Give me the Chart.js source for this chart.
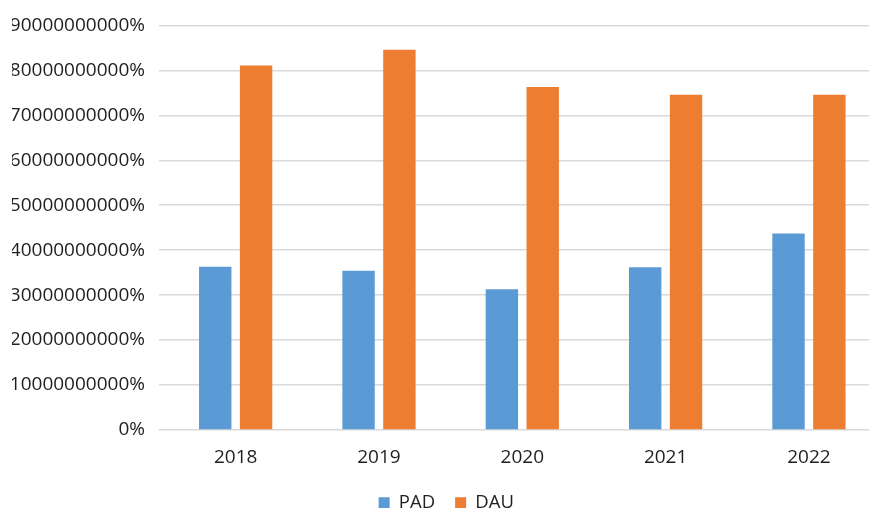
<!DOCTYPE html>
<html>
<head>
<meta charset="utf-8">
<script src="https://cdn.jsdelivr.net/npm/chart.js@4"></script>
<style>
  html, body { margin: 0; padding: 0; background: #fff; overflow: hidden; }
  #wrap { width: 869px; height: 508px; overflow: hidden; position: relative; }
  #box { width: 885px; height: 522px; position: absolute; left: 0; top: 0; }
</style>
</head>
<body>
<div id="wrap"><div id="box"><canvas id="c"></canvas></div></div>
<script>
const categories = ['2018', '2019', '2020', '2021', '2022'];
const padValues = [36300000000, 35400000000, 31300000000, 36200000000, 43700000000];
const dauValues = [81100000000, 84600000000, 76300000000, 74600000000, 74600000000];
const seriesNames = ['PAD', 'DAU'];
const yMax = 90000000000;
const yStep = 10000000000;

const FONT = { family: "'Open Sans', sans-serif", size: 19 };
const LEGEND_FONT = { family: "'Open Sans', sans-serif", size: 18.5 };
const TEXT = '#1f1f1f';

new Chart(document.getElementById('c'), {
  type: 'bar',
  data: {
    labels: categories,
    datasets: [
      { label: seriesNames[0], data: padValues, backgroundColor: '#5B9BD5',
        categoryPercentage: 0.57, barPercentage: 0.793 },
      { label: seriesNames[1], data: dauValues, backgroundColor: '#ED7D31',
        categoryPercentage: 0.57, barPercentage: 0.793 }
    ]
  },
  options: {
    responsive: true,
    maintainAspectRatio: false,
    animation: false,
    layout: { padding: { top: 23.5, right: 4.4, left: 12, bottom: 0 } },
    plugins: {
      tooltip: { enabled: false },
      legend: {
        position: 'bottom',
        labels: { font: LEGEND_FONT, color: TEXT, boxWidth: 11, boxHeight: 11, padding: 20 }
      }
    },
    scales: {
      x: {
        grid: { display: false },
        border: { display: false },
        ticks: { font: FONT, color: TEXT, padding: 8.6 },
        afterFit: s => { s.height = 43.5; }
      },
      y: {
        min: 0, max: yMax,
        ticks: { stepSize: yStep, font: FONT, color: TEXT, padding: 14,
                 callback: v => v + '%' },
        grid: { color: '#d9d9d9', lineWidth: 1.5, tickLength: 5 },
        border: { display: false },
        afterFit: s => { s.width = 152; }
      }
    }
  }
});
</script>
</body>
</html>
